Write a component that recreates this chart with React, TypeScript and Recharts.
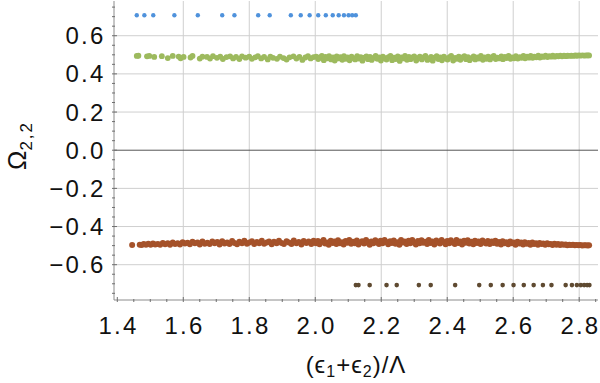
import React from 'react'
import {
    ScatterChart,
    Scatter,
    XAxis,
    YAxis,
    CartesianGrid,
    ReferenceLine,
} from 'recharts'

// upper isolated branch (blue) and lower isolated branch (dark brown)
const blueX = [1.459, 1.482, 1.509, 1.573, 1.644, 1.718, 1.755, 1.827, 1.862, 1.926, 1.956, 1.983, 2.009, 2.032, 2.053, 2.071, 2.087, 2.101, 2.112, 2.123]
const blueY = [0.707, 0.707, 0.707, 0.707, 0.707, 0.707, 0.707, 0.707, 0.707, 0.707, 0.707, 0.707, 0.707, 0.707, 0.707, 0.707, 0.707, 0.707, 0.707, 0.707]

const darkX = [2.123, 2.131, 2.165, 2.216, 2.247, 2.314, 2.350, 2.424, 2.497, 2.532, 2.568, 2.601, 2.632, 2.662, 2.690, 2.716, 2.759, 2.778, 2.793, 2.805, 2.815, 2.824, 2.831]
const darkY = [-0.707, -0.707, -0.707, -0.707, -0.707, -0.707, -0.707, -0.707, -0.707, -0.707, -0.707, -0.707, -0.707, -0.707, -0.707, -0.707, -0.707, -0.707, -0.707, -0.707, -0.707, -0.707, -0.707]

// green band near +0.5
const greenPts: [number, number][] = [
    [1.459, .494], [1.464, .495], [1.490, .492], [1.497, .494], [1.512, .489], [1.535, .493], [1.553, .483], [1.568, .494],
    [1.586, .491], [1.592, .482], [1.601, .489], [1.622, .486], [1.628, .494], [1.650, .480], [1.658, .490], [1.672, .489],
    [1.681, .480], [1.690, .493], [1.702, .484], [1.712, .491], [1.720, .478], [1.731, .488], [1.742, .492], [1.751, .481],
    [1.760, .489], [1.770, .478], [1.778, .492], [1.789, .485], [1.800, .490], [1.808, .479], [1.818, .487], [1.826, .493],
    [1.836, .481], [1.845, .489], [1.856, .476], [1.864, .491], [1.872, .484], [1.884, .479], [1.893, .490], [1.904, .483],
    [1.913, .475], [1.922, .487], [1.934, .492], [1.943, .480], [1.952, .489], [1.961, .473], [1.970, .486], [1.978, .493],
    [1.986, .481], [1.995, .488],
    [2.003, .491], [2.009, .478], [2.014, .486], [2.020, .494], [2.026, .472], [2.031, .489], [2.037, .482], [2.042, .493],
    [2.048, .476], [2.054, .487], [2.059, .470], [2.065, .492], [2.070, .481], [2.076, .488], [2.082, .474], [2.087, .493],
    [2.093, .479], [2.098, .486], [2.104, .471], [2.110, .490], [2.115, .483], [2.121, .476], [2.127, .493], [2.132, .480],
    [2.138, .488], [2.143, .469], [2.149, .485], [2.155, .492], [2.160, .477], [2.166, .489], [2.171, .473], [2.177, .484],
    [2.183, .494], [2.188, .479], [2.194, .487], [2.199, .470], [2.205, .491], [2.211, .482], [2.216, .475], [2.222, .488],
    [2.228, .494], [2.233, .472], [2.239, .485], [2.244, .478], [2.250, .492], [2.256, .468], [2.261, .487], [2.267, .481],
    [2.272, .494], [2.278, .474], [2.284, .489], [2.289, .477], [2.295, .486], [2.300, .492], [2.306, .470], [2.312, .483],
    [2.317, .490], [2.323, .476], [2.328, .486], [2.334, .494], [2.340, .473], [2.345, .481], [2.351, .489], [2.356, .469],
    [2.362, .485], [2.368, .493], [2.373, .478], [2.379, .487], [2.384, .471], [2.390, .490], [2.396, .481], [2.401, .475],
    [2.407, .488], [2.412, .494], [2.418, .470], [2.424, .484], [2.429, .479], [2.435, .491], [2.440, .474], [2.446, .486],
    [2.452, .493], [2.457, .477], [2.463, .488], [2.468, .472], [2.474, .483], [2.480, .492], [2.485, .476], [2.491, .487],
    [2.496, .480], [2.502, .494], [2.508, .474], [2.513, .486], [2.519, .479], [2.524, .491], [2.530, .476], [2.536, .488],
    [2.541, .494], [2.547, .478], [2.552, .485], [2.558, .481], [2.564, .492], [2.569, .477], [2.575, .489], [2.580, .483],
    [2.586, .494], [2.592, .479], [2.597, .487], [2.603, .482], [2.608, .493], [2.614, .480], [2.620, .488], [2.625, .484],
    [2.631, .494], [2.636, .482], [2.642, .490], [2.648, .485], [2.653, .494], [2.659, .484], [2.664, .491], [2.670, .487],
    [2.676, .495], [2.681, .486], [2.687, .492], [2.692, .489], [2.698, .495], [2.704, .488], [2.709, .493], [2.715, .490],
    [2.720, .496], [2.726, .490], [2.732, .494], [2.737, .492], [2.743, .496], [2.748, .492], [2.754, .495], [2.760, .493],
    [2.765, .496], [2.771, .494], [2.776, .496], [2.782, .494], [2.788, .497], [2.793, .495], [2.799, .497], [2.804, .496],
    [2.810, .497], [2.816, .496], [2.821, .497], [2.826, .497], [2.830, .497],
]

// rust band near -0.5
const rustPts: [number, number][] = [
    [1.445, -.497],
    [1.468, -.495], [1.474, -.497], [1.480, -.492], [1.487, -.496], [1.494, -.490], [1.501, -.495], [1.508, -.489], [1.515, -.494],
    [1.523, -.491], [1.530, -.496], [1.538, -.486], [1.545, -.493], [1.553, -.488], [1.560, -.495], [1.568, -.484], [1.575, -.491],
    [1.583, -.487], [1.590, -.494], [1.598, -.482], [1.605, -.489], [1.613, -.485], [1.620, -.493], [1.628, -.480], [1.635, -.488],
    [1.643, -.483], [1.650, -.494], [1.658, -.479], [1.665, -.490], [1.673, -.485], [1.680, -.492], [1.688, -.478], [1.695, -.487],
    [1.703, -.481], [1.710, -.494], [1.718, -.477], [1.725, -.489], [1.733, -.483], [1.740, -.491], [1.748, -.476], [1.755, -.486],
    [1.763, -.493], [1.770, -.480], [1.778, -.488], [1.785, -.474], [1.793, -.490], [1.800, -.484], [1.808, -.477], [1.815, -.492],
    [1.823, -.481], [1.830, -.487], [1.838, -.475], [1.845, -.490], [1.853, -.483], [1.860, -.478], [1.868, -.493], [1.875, -.480],
    [1.883, -.488], [1.890, -.474], [1.898, -.486], [1.905, -.491], [1.913, -.477], [1.920, -.484], [1.928, -.492], [1.935, -.473],
    [1.943, -.488], [1.950, -.481], [1.958, -.494], [1.965, -.476], [1.973, -.486], [1.980, -.479], [1.988, -.491], [1.995, -.474],
    [2.002, -.487], [2.008, -.476], [2.013, -.493], [2.019, -.481], [2.025, -.471], [2.030, -.489], [2.036, -.484], [2.041, -.495],
    [2.047, -.474], [2.053, -.486], [2.058, -.479], [2.064, -.492], [2.069, -.472], [2.075, -.488], [2.081, -.482], [2.086, -.494],
    [2.092, -.476], [2.097, -.485], [2.103, -.470], [2.109, -.490], [2.114, -.480], [2.120, -.487], [2.126, -.473], [2.131, -.494],
    [2.137, -.483], [2.142, -.477], [2.148, -.489], [2.154, -.471], [2.159, -.485], [2.165, -.495], [2.170, -.478], [2.176, -.488],
    [2.182, -.472], [2.187, -.483], [2.193, -.492], [2.198, -.475], [2.204, -.487], [2.210, -.470], [2.215, -.481], [2.221, -.493],
    [2.227, -.477], [2.232, -.486], [2.238, -.473], [2.243, -.490], [2.249, -.482], [2.255, -.495], [2.260, -.471], [2.266, -.484],
    [2.271, -.479], [2.277, -.491], [2.283, -.474], [2.288, -.487], [2.294, -.470], [2.299, -.483], [2.305, -.494], [2.311, -.476],
    [2.316, -.488], [2.322, -.472], [2.327, -.485], [2.333, -.480], [2.339, -.492], [2.344, -.471], [2.350, -.486], [2.355, -.478],
    [2.361, -.494], [2.367, -.473], [2.372, -.484], [2.378, -.489], [2.383, -.470], [2.389, -.481], [2.395, -.493], [2.400, -.476],
    [2.406, -.487], [2.411, -.472], [2.417, -.483], [2.423, -.491], [2.428, -.471], [2.434, -.486], [2.439, -.479], [2.445, -.494],
    [2.451, -.474], [2.456, -.485], [2.462, -.472], [2.467, -.489], [2.473, -.480], [2.479, -.493], [2.484, -.475], [2.490, -.486],
    [2.495, -.478], [2.501, -.491], [2.507, -.473], [2.512, -.484], [2.518, -.489], [2.523, -.476], [2.529, -.492], [2.535, -.479],
    [2.540, -.486], [2.546, -.474], [2.551, -.490], [2.557, -.481], [2.563, -.494], [2.568, -.477], [2.574, -.487], [2.579, -.482],
    [2.585, -.493], [2.591, -.478], [2.596, -.488], [2.602, -.483], [2.607, -.495], [2.613, -.480], [2.619, -.489], [2.624, -.484],
    [2.630, -.494], [2.635, -.482], [2.641, -.490], [2.647, -.486], [2.652, -.495], [2.658, -.484], [2.663, -.491], [2.669, -.487],
    [2.675, -.496], [2.680, -.486], [2.686, -.492], [2.691, -.489], [2.697, -.496], [2.703, -.488], [2.708, -.493], [2.714, -.491],
    [2.719, -.497], [2.725, -.490], [2.731, -.495], [2.736, -.492], [2.742, -.497], [2.747, -.493], [2.753, -.496], [2.759, -.494],
    [2.764, -.498], [2.770, -.495], [2.775, -.497], [2.781, -.496], [2.787, -.498], [2.792, -.497], [2.798, -.498], [2.803, -.497],
    [2.809, -.499], [2.815, -.498], [2.820, -.498], [2.826, -.499], [2.830, -.498],
]

// ticks: every 0.05, labels on multiples of 0.2
const xTicks = [1.4, 1.45, 1.5, 1.55, 1.6, 1.65, 1.7, 1.75, 1.8, 1.85, 1.9, 1.95, 2.0, 2.05, 2.1, 2.15, 2.2, 2.25, 2.3, 2.35, 2.4, 2.45, 2.5, 2.55, 2.6, 2.65, 2.7, 2.75, 2.8, 2.85]
const yTicks = [-0.75, -0.7, -0.65, -0.6, -0.55, -0.5, -0.45, -0.4, -0.35, -0.3, -0.25, -0.2, -0.15, -0.1, -0.05, 0, 0.05, 0.1, 0.15, 0.2, 0.25, 0.3, 0.35, 0.4, 0.45, 0.5, 0.55, 0.6, 0.65, 0.7, 0.75]
const xGrid = [1.6, 1.8, 2.0, 2.2, 2.4, 2.6, 2.8]
const yGrid = [-0.6, -0.4, -0.2, 0.2, 0.4, 0.6]

const FONT = '"Liberation Sans", Arial, sans-serif'
const FRAME = '#8c8c8c'
const TICK = '#6e6e6e'

const toRows = (xs: number[], ys: number[]) => xs.map((x, i) => ({ x, y: ys[i] }))
const fromPairs = (p: [number, number][]) => p.map(([x, y]) => ({ x, y }))

const isMajor = (v: number) => Math.round(v * 100) % 20 === 0
const fmt = (v: number) => v.toFixed(1).replace('-', '\u2212')

const dot = (color: string, r: number) => (props: any) => (
    <circle cx={props.cx} cy={props.cy} r={r} fill={color} />
)

const BottomTick = (props: any) => {
    const { x, y, payload } = props
    const major = isMajor(payload.value)
    return (
        <g>
            <line x1={x} x2={x} y1={y} y2={y - (major ? 5 : 3)} stroke={TICK} />
            {major && (
                <text x={x + 1.2} y={y + 31.5} textAnchor="middle" fontFamily={FONT} fontSize={24} letterSpacing={2.2} fill="#111">
                    {fmt(payload.value)}
                </text>
            )}
        </g>
    )
}

const TopTick = (props: any) => {
    const { x, y, payload } = props
    const major = isMajor(payload.value)
    return <line x1={x} x2={x} y1={y} y2={y + (major ? 5 : 3)} stroke={TICK} />
}

const LeftTick = (props: any) => {
    const { x, y, payload } = props
    const major = isMajor(payload.value)
    return (
        <g>
            <line x1={x} x2={x + (major ? 5 : 3)} y1={y} y2={y} stroke={TICK} />
            {major && (
                <text x={x - 6.5} y={y + 8.5} textAnchor="end" fontFamily={FONT} fontSize={24} letterSpacing={2.2} fill="#111">
                    {fmt(payload.value)}
                </text>
            )}
        </g>
    )
}

const RightTick = (props: any) => {
    const { x, y, payload } = props
    const major = isMajor(payload.value)
    return <line x1={x} x2={x - (major ? 5 : 3)} y1={y} y2={y} stroke={TICK} />
}

const XTitle = (props: any) => {
    const { x, width, y } = props.viewBox
    return (
        <text x={x + width / 2} y={y + 73} textAnchor="middle" fontFamily={FONT} fontSize={24} letterSpacing={1} fill="#111">
            (ϵ<tspan fontSize={16} dy={4}>1</tspan>
            <tspan dy={-4}>+ϵ</tspan>
            <tspan fontSize={16} dy={4}>2</tspan>
            <tspan dy={-4}>)/Λ</tspan>
        </text>
    )
}

const YTitle = (props: any) => {
    const { x, y, height } = props.viewBox
    const cx = x + 26
    const cy = y + height / 2 - 5
    return (
        <text x={cx} y={cy} transform={`rotate(-90, ${cx}, ${cy})`} textAnchor="middle" fontFamily={FONT} fontSize={26} fill="#111">
            Ω<tspan fontSize={17} dy={6} letterSpacing={2}>2,2</tspan>
        </text>
    )
}

export default function App() {
    return (
        <div style={{ position: 'absolute', left: 0, top: 0, background: '#fff' }}>
            <ScatterChart width={600} height={383} margin={{ top: 1, right: 2, left: 0, bottom: 0 }}>
                <CartesianGrid stroke="#cfcfcf" horizontalValues={yGrid} verticalValues={xGrid} />
                <ReferenceLine y={0} stroke="#555" />
                <XAxis
                    type="number"
                    dataKey="x"
                    domain={[1.39, 2.857]}
                    allowDataOverflow
                    ticks={xTicks}
                    interval={0}
                    height={83}
                    tickSize={0}
                    tickLine={false}
                    axisLine={{ stroke: FRAME }}
                    tick={BottomTick}
                    label={<XTitle />}
                />
                <XAxis
                    xAxisId="top"
                    orientation="top"
                    type="number"
                    domain={[1.39, 2.857]}
                    allowDataOverflow
                    ticks={xTicks}
                    interval={0}
                    height={0}
                    tickSize={0}
                    tickLine={false}
                    axisLine={{ stroke: FRAME }}
                    tick={TopTick}
                />
                <YAxis
                    type="number"
                    dataKey="y"
                    domain={[-0.785, 0.782]}
                    allowDataOverflow
                    ticks={yTicks}
                    interval={0}
                    width={114}
                    tickSize={0}
                    tickLine={false}
                    axisLine={{ stroke: FRAME }}
                    tick={LeftTick}
                    label={<YTitle />}
                />
                <YAxis
                    yAxisId="right"
                    orientation="right"
                    type="number"
                    domain={[-0.785, 0.782]}
                    allowDataOverflow
                    ticks={yTicks}
                    interval={0}
                    width={0}
                    tickSize={0}
                    tickLine={false}
                    axisLine={{ stroke: FRAME }}
                    tick={RightTick}
                />
                <Scatter data={fromPairs(greenPts)} shape={dot('#9dba5e', 2.9)} isAnimationActive={false} />
                <Scatter data={fromPairs(rustPts)} shape={dot('#a5522a', 3.0)} isAnimationActive={false} />
                <Scatter data={toRows(blueX, blueY)} shape={dot('#4f92dc', 2.2)} isAnimationActive={false} />
                <Scatter data={toRows(darkX, darkY)} shape={dot('#5f4a31', 2.3)} isAnimationActive={false} />
            </ScatterChart>
        </div>
    )
}
